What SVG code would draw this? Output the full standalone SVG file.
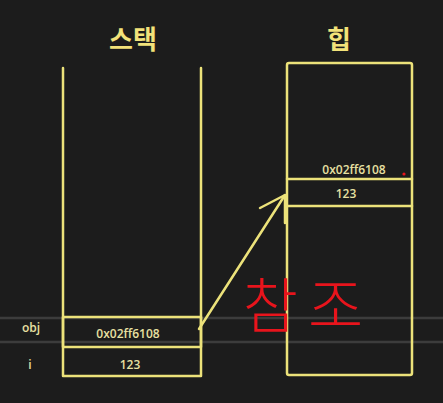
<svg xmlns="http://www.w3.org/2000/svg" width="443" height="403" viewBox="0 0 443 403">
<style>
.ln{stroke:#ece27a;stroke-width:2.5;fill:none;stroke-linecap:round;stroke-linejoin:round}
.t{font-family:"Open Sans","Noto Sans","Noto Sans CJK KR",sans-serif;fill:#e8e0a2;font-size:12px;font-weight:600;text-anchor:middle;dominant-baseline:central}
.h{font-family:"Noto Sans CJK KR",sans-serif;fill:#f2e27a;font-size:26px;font-weight:bold;text-anchor:middle}
.g{stroke:#3c3c3c;stroke-width:2.5}
</style>
<rect width="443" height="403" fill="#1c1c1c"/>
<g id="guides">
<line class="g" x1="0" y1="318" x2="443" y2="318"/>
<line class="g" x1="0" y1="342" x2="443" y2="342"/>
</g>
<g id="stack">
<text class="h" x="133" y="49">스택</text>
<path class="ln" d="M63 68 V376 H201 V68"/>
<rect class="ln" x="63" y="317" width="138" height="30"/>
<text class="t" x="31" y="327">obj</text>
<text class="t" x="128" y="333">0x02ff6108</text>
<text class="t" x="30" y="364">i</text>
<text class="t" x="130" y="364">123</text>
</g>
<g id="heap">
<text class="h" x="339" y="49">힙</text>
<rect class="ln" x="287" y="63" width="125" height="312" rx="2"/>
<line class="ln" x1="287" y1="179" x2="412" y2="179"/>
<line class="ln" x1="287" y1="206" x2="412" y2="206"/>
<text class="t" x="354" y="169">0x02ff6108</text>
<text class="t" x="346" y="193">123</text>
<circle cx="404" cy="174" r="1.6" fill="#e8141c"/>
</g>
<g id="connectors">
<path class="ln" d="M199 329 L285 195"/>
<path class="ln" d="M260 208 L285 195 L285 223"/>
</g>
<g id="annotation">
<text x="308" y="328" font-family="Noto Sans CJK KR,sans-serif" font-weight="300" font-size="60" fill="#e8141c" text-anchor="middle" letter-spacing="10">참조</text>
</g>
</svg>
